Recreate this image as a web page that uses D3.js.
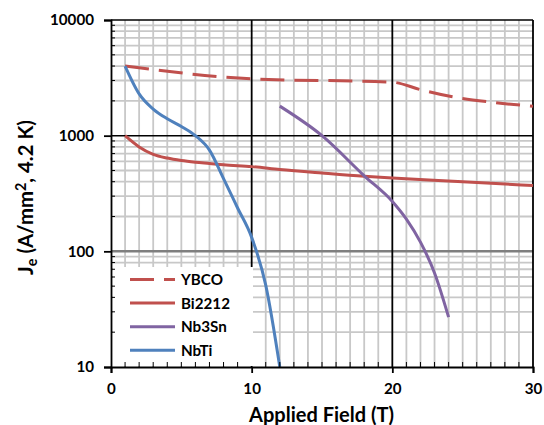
<!DOCTYPE html>
<html>
<head>
<meta charset="utf-8">
<script src="https://cdn.jsdelivr.net/npm/d3@7"></script>
<style>
  body { margin: 0; background: #fff; }
  text { font-family: Lato, "Open Sans", sans-serif; font-weight: bold; fill: #000; }
</style>
</head>
<body>
<svg id="chart" width="544" height="425"></svg>
<script>
// critical current density data (field in T, Je in A/mm2)
const ybco = [[1, 4000], [10, 3100], [20, 2900], [22, 2500], [24, 2200], [27, 1950], [30, 1800]];
const bi2212 = [[1, 1000], [2, 800], [3, 690], [4, 640], [5, 610], [6, 590], [7, 575], [8, 560],
  [10, 540], [12, 510], [15, 475], [18, 445], [20, 430], [25, 400], [30, 370]];
const nb3sn = [[12, 1800], [15, 1000], [18, 450], [20, 270], [21, 190], [22, 120], [23, 65], [24, 27]];
const nbti = [[1, 4000], [2, 2300], [3, 1700], [4, 1400], [5, 1200], [6, 1000], [7, 750], [8, 425],
  [9, 237], [10, 132], [11, 51], [12, 10]];

const seriesNames = ["YBCO", "Bi2212", "Nb3Sn", "NbTi"];
const xTicks = [0, 10, 20, 30];
const yTicks = [10, 100, 1000, 10000];

const series = [
  { name: "YBCO", data: ybco, color: "#C0504D", dash: "24,10" },
  { name: "Bi2212", data: bi2212, color: "#C0504D", dash: null },
  { name: "Nb3Sn", data: nb3sn, color: "#8064A2", dash: null },
  { name: "NbTi", data: nbti, color: "#4F81BD", dash: null }
];

const svg = d3.select("#chart");
const pLeft = 111, pRight = 533, pTop = 20, pBottom = 367;

// the original used Calibri; size Lato so that the text widths match
function fitSize(sel, targetWidth, baseSize) {
  sel.style("font-size", baseSize + "px");
  const w = sel.node().getComputedTextLength();
  const s = baseSize * targetWidth / w;
  sel.style("font-size", s + "px");
  return s;
}

const x = d3.scaleLinear().domain([0, 30]).range([pLeft, pRight]);
const y = d3.scaleLog().domain([10, 10000]).range([pBottom, pTop]);

// minor grid values
const xMinor = d3.range(1, 30).filter(v => v % 10 !== 0);
const yMinor = [];
[10, 100, 1000].forEach(d => { for (let k = 2; k <= 9; k++) yMinor.push(d * k); });

const grid = svg.append("g");
grid.selectAll(".vmin").data(xMinor).enter().append("line")
  .attr("x1", d => x(d)).attr("x2", d => x(d)).attr("y1", pTop).attr("y2", pBottom)
  .attr("stroke", "#c8c8c8").attr("stroke-width", 1.8);
grid.selectAll(".hmin").data(yMinor).enter().append("line")
  .attr("x1", pLeft).attr("x2", pRight).attr("y1", d => y(d)).attr("y2", d => y(d))
  .attr("stroke", "#c8c8c8").attr("stroke-width", 1.8);

// major grid
grid.append("line").attr("x1", pLeft).attr("x2", pRight).attr("y1", y(100)).attr("y2", y(100))
  .attr("stroke", "#7f7f7f").attr("stroke-width", 2.5);
grid.selectAll(".hmaj").data([1000, 10000]).enter().append("line")
  .attr("x1", pLeft).attr("x2", pRight).attr("y1", d => y(d)).attr("y2", d => y(d))
  .attr("stroke", "#000").attr("stroke-width", 1.5);
grid.selectAll(".vmaj").data([10, 20, 30]).enter().append("line")
  .attr("x1", d => x(d)).attr("x2", d => x(d)).attr("y1", pTop).attr("y2", pBottom)
  .attr("stroke", "#000").attr("stroke-width", 1.8);

// legend box covers the grid
const lg = svg.append("g");
lg.append("rect").attr("x", 113).attr("y", 267).attr("width", 140).attr("height", 99).attr("fill", "#fff");

// curves
const line = d3.line().x(d => x(d[0])).y(d => y(d[1])).curve(d3.curveMonotoneX);
svg.append("g").selectAll("path").data(series).enter().append("path")
  .attr("d", d => line(d.data))
  .attr("fill", "none")
  .attr("stroke", d => d.color)
  .attr("stroke-width", 3)
  .attr("stroke-dasharray", d => d.dash);

// legend entries
const row = lg.selectAll(".row").data(series).enter().append("g")
  .attr("transform", (d, i) => "translate(0," + (279.5 + i * 23.6) + ")");
row.append("line").attr("x1", 130).attr("x2", 175)
  .attr("stroke", d => d.color).attr("stroke-width", 3)
  .attr("stroke-dasharray", d => d.dash);
const legText = row.append("text").attr("x", 181).attr("dy", "0.36em")
  .text((d, i) => seriesNames[i]);
const legSize = fitSize(legText.filter((d, i) => i === 1), 49, 16);
legText.style("font-size", legSize + "px");

// axes
const xAxis = svg.append("g").attr("transform", "translate(0," + pBottom + ")")
  .call(d3.axisBottom(x).tickValues(xTicks).tickSize(6).tickPadding(10).tickFormat(d3.format("d")));
const yAxis = svg.append("g").attr("transform", "translate(" + pLeft + ",0)")
  .call(d3.axisLeft(y).tickValues(yTicks).tickSize(7).tickPadding(10).tickFormat(d3.format("d")));
[xAxis, yAxis].forEach(a => {
  a.select(".domain").attr("stroke", "#000").attr("stroke-width", 1.8);
  a.selectAll(".tick line").attr("stroke", "#000").attr("stroke-width", 1.8);
  a.selectAll("text").style("font-family", "Lato, 'Open Sans', sans-serif").style("font-weight", "bold");
});
const tickSize = fitSize(yAxis.selectAll("text").filter(d => d === 10000), 44, 16);
xAxis.selectAll("text").style("font-size", tickSize + "px");
yAxis.selectAll("text").style("font-size", tickSize + "px");

// minor ticks pointing inward
svg.append("g").selectAll("line").data(xMinor).enter().append("line")
  .attr("x1", d => x(d)).attr("x2", d => x(d)).attr("y1", pBottom).attr("y2", pBottom - 5)
  .attr("stroke", "#000").attr("stroke-width", 1);
svg.append("g").selectAll("line").data(yMinor).enter().append("line")
  .attr("x1", pLeft).attr("x2", pLeft + 4).attr("y1", d => y(d)).attr("y2", d => y(d))
  .attr("stroke", "#000").attr("stroke-width", 1);

// axis titles
const xt = svg.append("text").attr("x", 321.5).attr("y", 421.5)
  .attr("text-anchor", "middle").text("Applied Field (T)");
fitSize(xt, 145, 17);

const yt = svg.append("text").attr("transform", "translate(33,197.5) rotate(-90)")
  .attr("text-anchor", "middle").style("font-size", "17px");
yt.append("tspan").text("J");
yt.append("tspan").attr("dy", 4).style("font-size", "12px").text("e");
yt.append("tspan").attr("dy", -4).text(" (A/mm");
yt.append("tspan").attr("dy", -7).style("font-size", "12px").text("2");
yt.append("tspan").attr("dy", 7).text(", 4.2 K)");
const ytScale = 155 / yt.node().getComputedTextLength();
yt.style("font-size", (17 * ytScale) + "px");
yt.selectAll("tspan").filter((d, i) => i === 1 || i === 3).style("font-size", (12 * ytScale) + "px");
</script>
</body>
</html>
